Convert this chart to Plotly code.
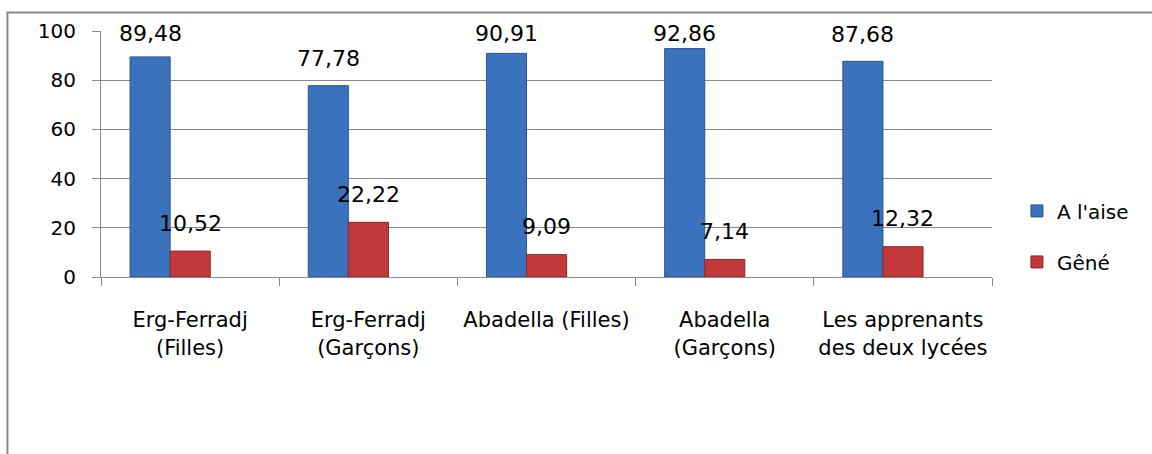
import plotly.graph_objects as go

categories = ["Erg-Ferradj<br>(Filles)", "Erg-Ferradj<br>(Garçons)", "Abadella (Filles)",
              "Abadella<br>(Garçons)", "Les apprenants<br>des deux lycées"]
a_laise = [89.48, 77.78, 90.91, 92.86, 87.68]
gene = [10.52, 22.22, 9.09, 7.14, 12.32]
a_laise_labels = ["89,48", "77,78", "90,91", "92,86", "87,68"]
gene_labels = ["10,52", "22,22", "9,09", "7,14", "12,32"]
y_ticks = [0, 20, 40, 60, 80, 100]

FONT = "DejaVu Sans"
GRID = "#8a8a8a"
BAR_W = 0.225
OFF_BLUE = -0.337
OFF_RED = OFF_BLUE + BAR_W
LABEL_CAP = 88.2  # labels are kept inside the plot area near the top

fig = go.Figure()
fig.add_trace(go.Bar(
    x=categories, y=a_laise, name="A l'aise", legendgroup="a",
    width=BAR_W, offset=OFF_BLUE,
    marker=dict(color="#3b72bd", line=dict(color="#2a5590", width=1)),
))
fig.add_trace(go.Bar(
    x=categories, y=gene, name="Gêné", legendgroup="g",
    width=BAR_W, offset=OFF_RED,
    marker=dict(color="#c3393b", line=dict(color="#8c2829", width=1)),
))

annotations = []
for i, (v, t) in enumerate(zip(a_laise, a_laise_labels)):
    annotations.append(dict(x=i + OFF_BLUE + BAR_W / 2, y=min(v, LABEL_CAP), text=t,
                            xref="x", yref="y",
                            showarrow=False, yanchor="middle", yshift=27,
                            font=dict(family=FONT, size=22, color="black")))
for i, (v, t) in enumerate(zip(gene, gene_labels)):
    annotations.append(dict(x=i + OFF_RED + BAR_W / 2, y=v, text=t, xref="x", yref="y",
                            showarrow=False, yanchor="middle", yshift=28,
                            font=dict(family=FONT, size=22, color="black")))

fig.update_layout(
    width=1152, height=454,
    margin=dict(l=101, r=160, t=31, b=177),
    paper_bgcolor="white", plot_bgcolor="white",
    barmode="overlay",
    font=dict(family=FONT, size=20, color="black"),
    showlegend=True,
    legend=dict(x=1.028, y=0.165, xanchor="left", yanchor="middle",
                font=dict(family=FONT, size=20, color="black"),
                tracegroupgap=22, bgcolor="rgba(0,0,0,0)"),
    annotations=annotations,
    shapes=[dict(type="rect", xref="paper", yref="paper",
                 x0=-0.105, x1=1.25, y0=-0.8, y1=1.0752,
                 line=dict(color=GRID, width=2), fillcolor="rgba(0,0,0,0)", layer="below")],
)
fig.update_xaxes(
    type="category", range=[-0.5, 4.5],
    showline=True, linecolor=GRID, linewidth=1,
    ticks="outside", tickson="boundaries", ticklen=8, tickcolor=GRID,
    showgrid=False, ticklabelstandoff=24,
    tickfont=dict(family=FONT, size=21, color="black"),
)
fig.update_yaxes(
    range=[0, 100], tickvals=y_ticks,
    showline=True, linecolor=GRID, linewidth=1,
    ticks="outside", ticklen=8, tickcolor=GRID,
    showgrid=True, gridcolor=GRID, gridwidth=1,
    zeroline=False, ticklabelstandoff=12,
    tickfont=dict(family=FONT, size=20, color="black"),
)

fig.write_html("out.html")
